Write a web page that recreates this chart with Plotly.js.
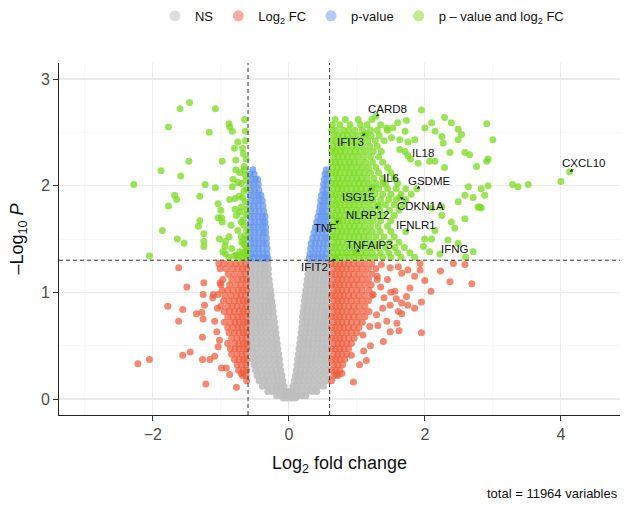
<!DOCTYPE html>
<html>
<head>
<meta charset="utf-8">
<script src="https://cdn.plot.ly/plotly-3.0.1.min.js"></script>
<style>html,body{margin:0;padding:0;background:#fff;}#chart{width:630px;height:508px;}</style>
</head>
<body>
<div id="chart"></div>
<script>
// Volcano plot: log2 fold change vs -log10 p-value, coloured by significance class.

const fcCutoff = 0.6;
const pCutoff = 0.05;
const totalVariables = 11964;

// Not significant (grey) — listed as rows of equal -log10 P
const nsRowY = [1.27,1.22,1.17,1.12,1.07,1.02,0.97,0.92,0.87,0.82,0.77,0.72,0.67,0.62,0.57,0.52,0.47,0.42,0.37,0.32,0.27,0.22,0.17,0.12,0.07,0.03,0.01];
const nsRowX = [
  [-0.56,-0.49,-0.42,-0.36,-0.31,0.30,0.36,0.42,0.48,0.55],
  [-0.55,-0.48,-0.41,-0.35,-0.30,0.29,0.35,0.41,0.47,0.53,0.56],
  [-0.56,-0.50,-0.43,-0.37,-0.30,0.28,0.34,0.40,0.46,0.52,0.56],
  [-0.55,-0.48,-0.42,-0.35,-0.29,0.27,0.33,0.39,0.45,0.51,0.56],
  [-0.56,-0.49,-0.43,-0.36,-0.28,0.26,0.32,0.38,0.45,0.51,0.56],
  [-0.55,-0.48,-0.41,-0.34,-0.27,0.25,0.31,0.38,0.44,0.50,0.56],
  [-0.56,-0.49,-0.42,-0.35,-0.29,-0.26,0.24,0.30,0.37,0.43,0.50,0.56],
  [-0.55,-0.48,-0.41,-0.34,-0.28,-0.25,0.23,0.29,0.36,0.42,0.49,0.55],
  [-0.56,-0.49,-0.42,-0.36,-0.30,-0.24,0.22,0.28,0.35,0.42,0.48,0.55],
  [-0.55,-0.48,-0.41,-0.35,-0.29,-0.23,0.21,0.27,0.34,0.40,0.47,0.53,0.56],
  [-0.56,-0.50,-0.43,-0.37,-0.30,-0.22,0.20,0.26,0.33,0.39,0.46,0.52,0.56],
  [-0.55,-0.48,-0.42,-0.35,-0.28,-0.21,0.20,0.26,0.32,0.39,0.45,0.51,0.56],
  [-0.56,-0.49,-0.42,-0.35,-0.28,-0.20,0.19,0.25,0.31,0.38,0.44,0.50,0.56],
  [-0.55,-0.48,-0.41,-0.34,-0.26,-0.19,0.18,0.24,0.30,0.37,0.43,0.50,0.56],
  [-0.55,-0.48,-0.41,-0.33,-0.25,-0.18,0.17,0.23,0.29,0.36,0.42,0.49,0.56],
  [-0.54,-0.47,-0.40,-0.32,-0.24,-0.17,0.16,0.22,0.29,0.35,0.42,0.49,0.56],
  [-0.54,-0.47,-0.39,-0.31,-0.23,-0.16,0.15,0.21,0.28,0.35,0.42,0.49,0.56],
  [-0.53,-0.46,-0.38,-0.30,-0.22,-0.15,0.14,0.20,0.27,0.34,0.41,0.48,0.56],
  [-0.52,-0.45,-0.37,-0.29,-0.21,-0.14,0.13,0.19,0.26,0.33,0.40,0.48,0.56],
  [-0.51,-0.44,-0.36,-0.28,-0.20,-0.13,0.12,0.18,0.25,0.32,0.40,0.48,0.56],
  [-0.49,-0.42,-0.34,-0.26,-0.19,-0.12,0.11,0.17,0.24,0.31,0.39,0.47,0.55],
  [-0.47,-0.40,-0.32,-0.24,-0.17,-0.10,0.10,0.16,0.23,0.31,0.39,0.47,0.55],
  [-0.44,-0.37,-0.30,-0.22,-0.15,-0.09,0.08,0.14,0.21,0.29,0.37,0.46,0.55],
  [-0.39,-0.32,-0.25,-0.18,-0.12,-0.07,0.06,0.12,0.19,0.27,0.35,0.43,0.51],
  [-0.31,-0.24,-0.17,-0.11,-0.05,0.00,0.05,0.11,0.18,0.26,0.34,0.41],
  [-0.18,-0.11,-0.05,0.00,0.06,0.12,0.19,0.25],
  [-0.08,-0.02,0.04,0.10]
];

// Significant by p-value only (blue)
const pvRowY = [2.15,2.11,2.06,2.01,1.96,1.91,1.86,1.81,1.76,1.71,1.66,1.61,1.56,1.51,1.46,1.41,1.36,1.32];
const pvRowX = [
  [-0.53,0.55],
  [-0.57,-0.51,0.53,0.57],
  [-0.56,-0.50,-0.46,0.52,0.57],
  [-0.57,-0.51,-0.45,0.51,0.56],
  [-0.56,-0.50,-0.44,0.50,0.55],
  [-0.57,-0.51,-0.45,-0.41,0.48,0.53,0.57],
  [-0.56,-0.50,-0.44,-0.39,0.47,0.52,0.57],
  [-0.57,-0.51,-0.45,-0.38,0.46,0.51,0.56],
  [-0.56,-0.50,-0.44,-0.37,0.45,0.50,0.55],
  [-0.57,-0.51,-0.45,-0.39,-0.35,0.43,0.48,0.53,0.57],
  [-0.56,-0.50,-0.44,-0.38,-0.35,0.41,0.46,0.51,0.56],
  [-0.57,-0.51,-0.45,-0.39,-0.34,0.39,0.44,0.50,0.56],
  [-0.56,-0.50,-0.44,-0.38,-0.34,0.37,0.43,0.49,0.55],
  [-0.57,-0.51,-0.45,-0.39,-0.33,0.35,0.41,0.47,0.53,0.57],
  [-0.56,-0.50,-0.44,-0.38,-0.33,0.33,0.39,0.45,0.51,0.56],
  [-0.57,-0.51,-0.45,-0.39,-0.32,0.32,0.38,0.44,0.50,0.56],
  [-0.56,-0.50,-0.44,-0.38,-0.32,0.31,0.37,0.43,0.49,0.55],
  [-0.57,-0.51,-0.45,-0.39,-0.33,-0.31,0.30,0.36,0.42,0.48,0.54]
];

// Significant by fold change only (red): dense rows near the cutoffs
const fcRowY = [1.27,1.22,1.17,1.12,1.07,1.02,0.97,0.92,0.87,0.82,0.77,0.72,0.67,0.62,0.57,0.52,0.47,0.42,0.37,0.32,0.27,0.22,0.17];
const fcRowX = [
  [-1.03,-0.95,-0.86,-0.78,-0.70,-0.63,0.63,0.69,0.75,0.81,0.88,0.95,1.03,1.12,1.22],
  [-0.92,-0.83,-0.75,-0.68,-0.62,0.66,0.72,0.78,0.85,0.92,1.00,1.08,1.17,1.28],
  [-0.89,-0.80,-0.71,-0.64,0.63,0.69,0.75,0.81,0.88,0.95,1.03,1.12,1.22],
  [-0.97,-0.84,-0.75,-0.68,-0.62,0.66,0.72,0.78,0.85,0.92,1.00,1.08,1.17,1.30],
  [-1.00,-0.87,-0.78,-0.70,-0.63,0.63,0.69,0.75,0.81,0.88,0.95,1.03,1.12,1.21],
  [-0.98,-0.90,-0.82,-0.74,-0.68,-0.62,0.66,0.72,0.78,0.85,0.92,1.00,1.08,1.18],
  [-0.94,-0.85,-0.77,-0.70,-0.64,0.63,0.69,0.75,0.81,0.88,0.95,1.03,1.12,1.22],
  [-0.96,-0.88,-0.80,-0.73,-0.67,-0.62,0.66,0.72,0.78,0.85,0.92,1.00,1.08,1.17],
  [-1.00,-0.90,-0.83,-0.76,-0.69,-0.63,0.63,0.69,0.75,0.81,0.88,0.95,1.03,1.12],
  [-0.95,-0.87,-0.80,-0.73,-0.67,-0.62,0.66,0.72,0.78,0.85,0.92,1.00,1.09,1.18],
  [-0.90,-0.82,-0.75,-0.69,-0.63,0.63,0.69,0.75,0.81,0.88,0.95,1.03,1.12],
  [-0.95,-0.86,-0.79,-0.73,-0.67,-0.62,0.66,0.72,0.78,0.85,0.92,1.00,1.08],
  [-0.90,-0.82,-0.75,-0.69,-0.63,0.63,0.69,0.75,0.81,0.88,0.95,1.03],
  [-0.88,-0.80,-0.73,-0.67,-0.62,0.66,0.72,0.78,0.85,0.92,1.00],
  [-0.84,-0.76,-0.69,-0.63,0.63,0.69,0.75,0.81,0.88,0.96],
  [-0.90,-0.80,-0.73,-0.67,-0.62,0.66,0.72,0.78,0.85,0.92],
  [-0.86,-0.79,-0.73,-0.67,-0.62,0.63,0.69,0.75,0.81,0.88],
  [-0.84,-0.76,-0.69,-0.63,0.66,0.72,0.78,0.85],
  [-0.80,-0.73,-0.67,-0.62,0.63,0.69,0.75,0.82],
  [-0.76,-0.69,-0.63,0.66,0.72,0.79],
  [-0.74,-0.67,-0.62,0.63,0.69,0.75],
  [-0.68,-0.63,0.66,0.72],
  [-0.62,0.63]
];
// Scattered fold-change-only genes further out
const fcSparseX = [-1.62,-1.50,-1.78,-1.56,-1.62,-2.05,-2.22,-1.56,-1.45,-1.25,-1.26,-1.24,-1.36,-1.28,-1.26,-1.09,-1.27,-1.27,-1.22,-0.77,-1.01,-1.01,-1.11,-1.04,-1.06,-1.04,-1.09,-1.16,-0.99,-0.92,-0.87,-0.70,-1.12,-1.05,-1.02,
  2.69,2.59,2.42,2.23,2.37,2.09,2.00,1.95,1.95,1.93,1.93,1.75,1.66,1.85,1.78,1.73,1.85,1.75,1.66,1.66,1.61,1.58,1.49,1.56,1.61,1.49,1.36,1.59,1.62,1.49,1.39,1.44,1.14,0.95,1.04,0.92,0.78,0.70,1.29,1.31,1.19,1.09,1.24,1.35,1.40,1.30,1.45,1.38,1.50,1.20,1.10];
const fcSparseY = [1.23,1.05,0.87,0.84,0.73,0.37,0.33,0.41,0.44,1.09,0.98,0.88,0.80,0.81,0.75,0.73,0.58,0.37,0.14,0.11,1.09,1.22,0.98,0.98,0.63,0.49,0.40,0.37,0.29,0.29,0.23,0.24,0.95,0.85,0.55,
  1.08,1.26,1.27,1.20,1.10,1.01,1.11,0.91,0.62,1.21,1.27,1.21,1.18,1.15,1.04,0.96,0.85,0.88,0.90,0.80,0.82,0.94,0.88,1.01,1.24,1.23,1.26,0.71,0.64,0.63,0.54,0.73,0.36,0.16,0.32,0.41,0.24,0.23,0.79,0.69,0.68,0.60,0.98,1.05,0.95,1.15,1.12,0.85,1.00,0.50,0.45];

// Significant by both p-value and fold change (green): dense rows on the up-regulated side
const bothRowY = [2.62,2.57,2.52,2.47,2.42,2.37,2.32,2.27,2.22,2.17,2.12,2.07,2.02,1.97,1.92,1.87,1.82,1.77,1.72,1.67,1.62,1.57,1.52,1.47,1.42,1.37,1.33];
const bothRowX = [
  [0.68,0.83,1.02,1.22],
  [0.64,0.75,0.90,1.05,1.15,1.35],
  [0.63,0.70,0.80,0.88,0.97,1.08,1.20,1.30,1.45],
  [0.66,0.73,0.79,0.86,0.94,1.03,1.12,1.21,1.33],
  [0.63,0.70,0.76,0.84,0.91,0.99,1.07,1.16,1.27,1.40],
  [0.65,0.71,0.78,0.85,0.93,1.00,1.09,1.19,1.30],
  [0.63,0.69,0.76,0.82,0.90,0.97,1.05,1.14,1.24,1.36],
  [0.66,0.72,0.79,0.86,0.93,1.01,1.10,1.20,1.32],
  [0.63,0.69,0.75,0.82,0.89,0.96,1.04,1.13,1.23,1.38],
  [0.65,0.72,0.78,0.85,0.92,1.00,1.08,1.17,1.28,1.45],
  [0.63,0.69,0.75,0.82,0.89,0.96,1.03,1.11,1.20,1.32,1.50],
  [0.66,0.72,0.79,0.86,0.93,1.00,1.07,1.15,1.25,1.38,1.55],
  [0.63,0.69,0.75,0.82,0.89,0.96,1.03,1.10,1.18,1.28,1.42,1.60],
  [0.65,0.72,0.78,0.85,0.92,0.99,1.06,1.14,1.22,1.32,1.45,1.58,1.72],
  [0.63,0.69,0.75,0.82,0.89,0.96,1.03,1.10,1.18,1.27,1.38,1.50,1.65,1.80],
  [0.66,0.72,0.79,0.86,0.93,1.00,1.07,1.15,1.24,1.35,1.47,1.58,1.72],
  [0.63,0.69,0.75,0.82,0.89,0.96,1.03,1.11,1.20,1.30,1.42,1.55,1.68],
  [0.65,0.72,0.78,0.85,0.92,0.99,1.06,1.14,1.23,1.34,1.48,1.62],
  [0.63,0.69,0.75,0.82,0.89,0.96,1.03,1.10,1.18,1.28,1.40,1.55],
  [0.66,0.72,0.79,0.86,0.93,1.00,1.07,1.15,1.24,1.35,1.50],
  [0.63,0.69,0.75,0.82,0.89,0.96,1.03,1.11,1.20,1.31,1.45],
  [0.65,0.72,0.78,0.85,0.92,0.99,1.06,1.14,1.23,1.34,1.50],
  [0.63,0.69,0.75,0.82,0.89,0.96,1.03,1.10,1.18,1.28,1.40,1.55],
  [0.66,0.72,0.79,0.86,0.93,1.00,1.07,1.15,1.24,1.35,1.48,1.62],
  [0.63,0.69,0.75,0.82,0.89,0.96,1.03,1.11,1.20,1.30,1.42,1.56,1.70],
  [0.65,0.72,0.78,0.85,0.92,0.99,1.06,1.14,1.23,1.34,1.47,1.60,1.78],
  [0.63,0.69,0.75,0.82,0.89,0.96,1.03,1.10,1.18,1.27,1.38,1.50,1.65,1.85]
];
// Scattered genes significant on both criteria
const bothSparseX = [1.95,2.29,2.39,2.49,2.91,3.00,2.10,2.00,1.73,1.60,1.71,1.53,1.44,1.51,1.63,1.75,1.85,2.15,2.25,2.27,2.49,2.54,2.66,2.93,2.07,1.90,1.75,1.71,1.63,2.15,2.37,2.59,2.76,2.29,
  2.91,2.88,2.83,2.81,3.29,3.37,3.52,4.00,2.64,2.83,2.93,2.59,2.71,2.49,2.78,2.25,2.25,2.10,2.44,2.39,2.59,2.15,2.10,2.00,1.98,2.34,2.49,2.71,2.07,2.60,
  -1.46,-1.60,-1.08,-1.77,-1.17,-0.88,-0.87,-0.83,-0.65,-0.64,-0.75,-0.80,-0.68,-0.78,-0.98,-1.47,-1.88,-1.59,-2.28,-0.78,-0.66,-0.65,-0.82,-0.75,-0.70,-0.83,-1.23,-1.08,-1.68,-1.65,-1.31,-1.77,-0.87,-0.79,-0.68,-1.04,-0.70,-1.00,-0.79,-0.77,-1.04,-0.99,-1.31,-0.98,-1.33,-0.70,-0.66,-0.75,-1.86,-1.25,-1.64,-1.02,-0.88,-1.54,-1.25,-1.25,-0.93,-0.94,-0.65,-0.66,-0.97,-0.84,-0.77,-0.72,-0.67,-2.05,-0.62,-0.62,
  -0.63,-0.68,-0.74,-0.80,-0.63,-0.69,-0.63,-0.67,-0.63,-0.64,-0.66,-0.63,-0.64,-0.72,-0.63,-0.67,-0.64,-0.88,-0.93,-0.70,-0.73,-0.62,-0.62,-0.72,-0.85,-0.62];
const bothSparseY = [2.71,2.64,2.59,2.53,2.58,2.43,2.59,2.54,2.61,2.59,2.51,2.54,2.54,2.45,2.43,2.41,2.43,2.51,2.46,2.40,2.43,2.48,2.29,2.25,2.23,2.21,2.28,2.32,2.34,2.23,2.31,2.31,2.18,2.17,
  2.23,1.91,1.79,1.80,2.01,1.99,2.01,2.04,1.99,1.97,2.00,1.91,1.89,1.85,1.80,1.80,1.72,1.79,1.60,1.66,1.69,1.58,1.50,1.50,1.43,1.49,1.46,1.38,1.38,1.33,
  2.78,2.72,2.72,2.55,2.50,2.58,2.55,2.51,2.62,2.51,2.41,2.35,2.35,2.24,2.23,2.23,2.14,2.09,2.01,2.15,2.18,2.15,2.06,2.03,2.02,1.99,2.01,1.98,1.91,1.87,1.90,1.81,1.87,1.88,1.89,1.83,1.80,1.77,1.78,1.72,1.70,1.70,1.67,1.66,1.62,1.66,1.63,1.58,1.58,1.55,1.50,1.50,1.52,1.46,1.48,1.43,1.48,1.43,1.49,1.45,1.38,1.41,1.35,1.38,1.37,1.34,1.40,1.58,
  1.33,1.33,1.32,1.34,1.42,1.47,1.53,1.68,1.73,1.85,1.95,2.05,2.10,2.12,2.25,2.30,2.42,1.33,1.36,1.52,1.90,1.97,1.78,1.75,1.63,1.36];

// Labelled genes
const geneNames = ['CARD8','IFIT3','IL18','IL6','GSDME','ISG15','CDKN1A','NLRP12','IFNLR1','TNF','TNFAIP3','IFNG','IFIT2','CXCL10'];
const geneX = [1.28,1.13,1.79,1.38,1.88,1.23,1.63,1.32,1.72,0.74,0.99,2.22,0.69,4.13];
const geneY = [2.65,2.49,2.25,2.02,1.97,1.98,1.89,1.81,1.57,1.67,1.38,1.36,1.31,2.13];

function fromRows(rowY, rowX) {
  const xs = [], ys = [];
  rowY.forEach((y, i) => rowX[i].forEach(x => { xs.push(x); ys.push(y); }));
  return { x: xs, y: ys };
}

const ns = fromRows(nsRowY, nsRowX);
const pv = fromRows(pvRowY, pvRowX);
const fc = fromRows(fcRowY, fcRowX);
const both = fromRows(bothRowY, bothRowX);

const colNS = '#BEBEBE', colFC = '#EE5C3B', colP = '#6495ED', colBoth = '#7BDB1F';

function pts(x, y, color, op) {
  return { type: 'scatter', mode: 'markers', x: x, y: y, showlegend: false, hoverinfo: 'skip',
    marker: { color: color, size: 7, opacity: op, line: { width: 0 } } };
}
function key(name, color) {
  return { type: 'scatter', mode: 'markers', x: [null], y: [null], name: name, hoverinfo: 'skip',
    marker: { color: color, size: 11, opacity: 0.5 } };
}

const traces = [
  pts(ns.x, ns.y, colNS, 0.92),
  pts(fc.x.concat(fcSparseX), fc.y.concat(fcSparseY), colFC, 0.72),
  pts(pv.x, pv.y, colP, 0.75),
  pts(both.x.concat(bothSparseX, geneX), both.y.concat(bothSparseY, geneY), colBoth, 0.75),
  key('NS', colNS),
  key('Log<sub>2</sub> FC', colFC),
  key('p-value', colP),
  key('p \u2013 value and log<sub>2</sub> FC', colBoth)
];

// Label offsets (pixels) from each gene point to its text
const labelDX = [12,-15,12,8,13,-14,21,-11,10,-14,13,15,-21,14];
const labelDY = [-7,9,-6,-6,-8,9,9,9,-7,7,-7,-5,8,-9];

const annotations = geneNames.map((g, i) => ({
  x: geneX[i], y: geneY[i], xref: 'x', yref: 'y', text: g,
  showarrow: true, arrowhead: 2, arrowsize: 0.8, arrowwidth: 0.8, arrowcolor: '#222',
  ax: labelDX[i], ay: labelDY[i], standoff: 0, borderpad: 0,
  font: { family: 'Arial, Liberation Sans, sans-serif', size: 11.5, color: '#111' }
}));
annotations.push({
  xref: 'paper', yref: 'paper', x: 1, y: -0.222, xanchor: 'right', yanchor: 'middle',
  text: 'total = ' + totalVariables + ' variables', showarrow: false,
  font: { family: 'Arial, Liberation Sans, sans-serif', size: 13, color: '#111' }
});

const pLine = -Math.log10(pCutoff);
const dash = { color: '#333', width: 1, dash: '4px,3px' };
const shapes = [
  { type: 'line', xref: 'x', yref: 'paper', x0: -fcCutoff, x1: -fcCutoff, y0: 0, y1: 1, line: dash, layer: 'above' },
  { type: 'line', xref: 'x', yref: 'paper', x0: fcCutoff, x1: fcCutoff, y0: 0, y1: 1, line: dash, layer: 'above' },
  { type: 'line', xref: 'paper', yref: 'y', x0: 0, x1: 1, y0: pLine, y1: pLine, line: dash, layer: 'above' }
];

const font = 'Arial, Liberation Sans, sans-serif';
const axisCommon = {
  showline: true, linecolor: '#222', linewidth: 1,
  ticks: 'outside', ticklen: 5, tickcolor: '#333', tickwidth: 1,
  tickfont: { family: font, size: 16, color: '#4D4D4D' },
  gridcolor: '#EBEBEB', gridwidth: 1.3, zeroline: false
};

const layout = {
  width: 630, height: 508,
  margin: { l: 59, r: 10, t: 63, b: 93, autoexpand: false },
  paper_bgcolor: '#fff', plot_bgcolor: '#fff',
  font: { family: font, color: '#111' },
  xaxis: Object.assign({}, axisCommon, {
    range: [-3.38, 4.87], tick0: 0, dtick: 2,
    minor: { dtick: 1, showgrid: true, gridcolor: '#F4F4F4', gridwidth: 0.7 },
    title: { text: 'Log<sub>2</sub> fold change', font: { family: font, size: 18, color: '#111' }, standoff: 14 }
  }),
  yaxis: Object.assign({}, axisCommon, {
    range: [-0.15, 3.15], tick0: 0, dtick: 1,
    minor: { dtick: 0.5, showgrid: true, gridcolor: '#F4F4F4', gridwidth: 0.7 },
    title: { text: '\u2013Log<sub>10</sub> <i>P</i>', font: { family: font, size: 18, color: '#111' }, standoff: 12 }
  }),
  legend: {
    orientation: 'h', x: 0.54, xanchor: 'center', y: 1.134, yanchor: 'middle',
    font: { family: font, size: 13, color: '#111' }, bgcolor: 'rgba(0,0,0,0)'
  },
  shapes: shapes,
  annotations: annotations
};

Plotly.newPlot('chart', traces, layout, { displayModeBar: false, staticPlot: true });
</script>
</body>
</html>
